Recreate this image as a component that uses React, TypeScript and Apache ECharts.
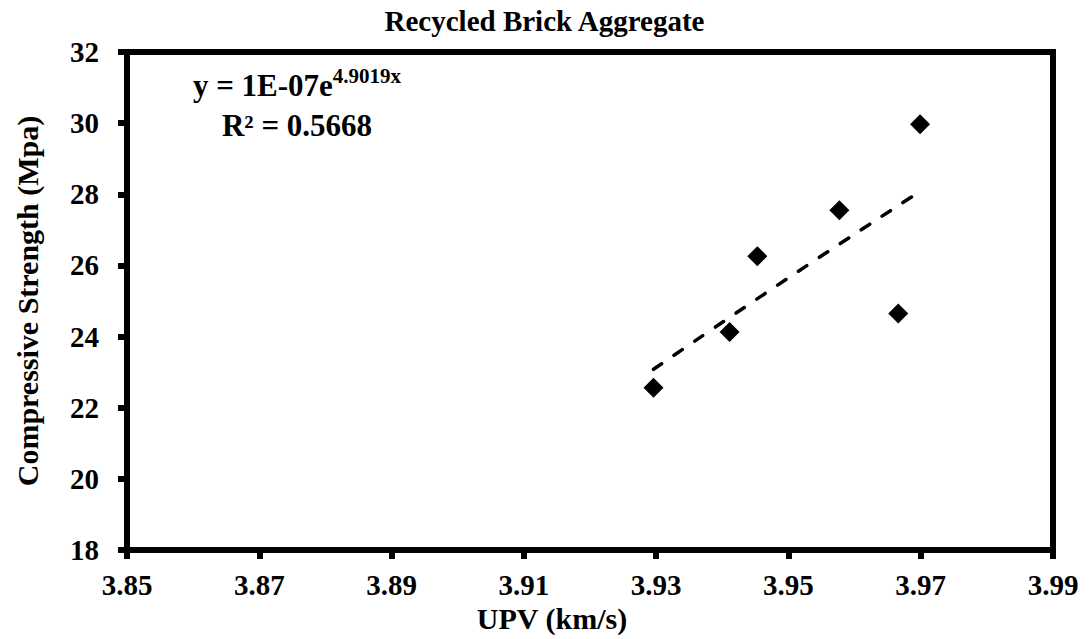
import React, { useEffect, useRef } from "react";
import * as echarts from "echarts";

// Measured data (UPV in km/s, compressive strength in MPa)
const upv = [3.9296, 3.9411, 3.9453, 3.9577, 3.9666, 3.9699];
const strength = [22.56, 24.13, 26.26, 27.55, 24.65, 29.97];

// Exponential trendline
const trendUpv = [3.9296, 3.95, 3.9699];
const trendStrength = [23.08, 25.65, 28.08];

const titleText = "Recycled Brick Aggregate";
const xName = "UPV (km/s)";
const yName = "Compressive Strength (Mpa)";
const eqMain = "y = 1E-07e";
const eqExp = "4.9019x";
const eqR2 = "R² = 0.5668";

// x axis: 3.85 .. 3.99 step 0.02, drawn in hundredths offset from 3.85
const X_ORIGIN = 3.85;
const X_SPAN = 14;
const X_STEP = 2;
const Y_MIN = 18;
const Y_MAX = 32;
const Y_STEP = 2;

const toX = (v: number) => (v - X_ORIGIN) * 100;

const FONT = "Liberation Serif, Times New Roman, serif";

export default function App() {
  const ref = useRef<HTMLDivElement>(null);
  useEffect(() => {
    if (!ref.current) return;
    const chart = echarts.init(ref.current, undefined, { renderer: "svg" });
    const pts = upv.map((x, i) => [toX(x), strength[i]]);
    const trend = trendUpv.map((x, i) => [toX(x), trendStrength[i]]);
    chart.setOption({
      animation: false,
      backgroundColor: "#fff",
      title: {
        text: titleText,
        left: "center",
        top: 1,
        textStyle: { fontFamily: FONT, fontWeight: "bold", fontSize: 29, color: "#000" },
      },
      grid: {
        left: 127,
        right: 36,
        top: 52,
        bottom: 89,
        show: true,
        borderColor: "#000",
        borderWidth: 6,
        backgroundColor: "transparent",
      },
      xAxis: {
        type: "value",
        min: 0,
        max: X_SPAN,
        interval: X_STEP,
        name: xName,
        nameLocation: "middle",
        nameGap: 53,
        nameTextStyle: {
          fontFamily: FONT,
          fontWeight: "bold",
          fontSize: 30,
          color: "#000",
          padding: [0, 76, 0, 0],
        },
        axisLine: { show: true, lineStyle: { color: "#000", width: 6 } },
        axisTick: { show: true, inside: false, length: 9, lineStyle: { color: "#000", width: 6 } },
        axisLabel: {
          margin: 20,
          fontFamily: FONT,
          fontWeight: "bold",
          fontSize: 29,
          color: "#000",
          formatter: (v: number) => (X_ORIGIN + v / 100).toFixed(2),
        },
        splitLine: { show: false },
      },
      yAxis: {
        type: "value",
        min: Y_MIN,
        max: Y_MAX,
        interval: Y_STEP,
        name: yName,
        nameLocation: "middle",
        nameGap: 85,
        nameTextStyle: { fontFamily: FONT, fontWeight: "bold", fontSize: 30, color: "#000" },
        axisLine: { show: true, lineStyle: { color: "#000", width: 6 } },
        axisTick: { show: true, inside: false, length: 9, lineStyle: { color: "#000", width: 6 } },
        axisLabel: {
          margin: 28,
          fontFamily: FONT,
          fontWeight: "bold",
          fontSize: 29,
          color: "#000",
        },
        splitLine: { show: false },
      },
      series: [
        {
          type: "line",
          data: trend,
          smooth: true,
          showSymbol: false,
          symbol: "none",
          lineStyle: { color: "#000", width: 3.5, type: [10, 15], cap: "round" },
          z: 2,
        },
        {
          type: "scatter",
          data: pts,
          symbol: "diamond",
          symbolSize: 20,
          itemStyle: { color: "#000", opacity: 1 },
          z: 3,
        },
      ],
      graphic: [
        {
          type: "text",
          x: 297,
          y: 65,
          style: {
            text: `{a|${eqMain}}{b|${eqExp}}\n{a|${eqR2}}`,
            align: "center",
            verticalAlign: "top",
            fill: "#000",
            rich: {
              a: { fontFamily: FONT, fontWeight: "bold", fontSize: 31, lineHeight: 40, fill: "#000" },
              b: {
                fontFamily: FONT,
                fontWeight: "bold",
                fontSize: 21,
                lineHeight: 40,
                verticalAlign: "top",
                padding: [0, 0, 14, 0],
                fill: "#000",
              },
            },
          },
        },
      ],
    });
    return () => chart.dispose();
  }, []);
  return (
    <div
      ref={ref}
      style={{ position: "fixed", left: 0, top: 0, width: 1089, height: 639, background: "#fff" }}
    />
  );
}
